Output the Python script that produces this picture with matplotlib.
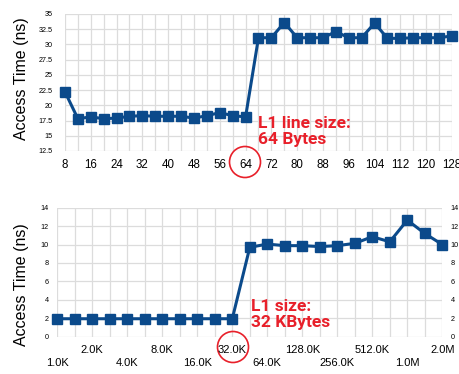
import matplotlib
matplotlib.use("Agg")
import matplotlib.pyplot as plt
import matplotlib.patches as mpatches

plt.rcParams["font.family"] = ["Liberation Sans", "DejaVu Sans"]

# top chart: access time vs. stride (bytes)
stride = list(range(8, 129, 4))
stride_time = [22.2, 17.8, 18.1, 17.8, 17.9, 18.2, 18.3, 18.2, 18.2, 18.2,
               17.9, 18.3, 18.8, 18.3, 18.1, 31.1, 31.1, 33.6, 31.1, 31.1,
               31.1, 32.1, 31.1, 31.1, 33.5, 31.0, 31.0, 31.1, 31.1, 31.1, 31.4]
stride_ticks = list(range(8, 129, 8))

# bottom chart: access time vs. array size
size_labels = ["1.0K", "", "2.0K", "", "4.0K", "", "8.0K", "", "16.0K", "", "32.0K", "",
               "64.0K", "", "128.0K", "", "256.0K", "", "512.0K", "", "1.0M", "", "2.0M"]
size_time = [1.95, 1.95, 1.95, 1.95, 1.95, 1.95, 1.95, 1.95, 1.95, 1.95, 1.95,
             9.7, 10.05, 9.88, 9.88, 9.78, 9.88, 10.13, 10.85, 10.3, 12.65, 11.2, 10.0]

blue = "#0b4a8b"
red = "#e8202a"
grid = "#dcdcdc"
H = 374

fig = plt.figure(figsize=(4.59, 3.74), dpi=100)

# ---- top
ax1 = fig.add_axes([0.1416, 0.5963, 0.8431, 0.3663])
ax1.plot(stride, stride_time, color=blue, lw=2.2, marker="s", ms=6.5, clip_on=False, zorder=3)
ax1.set_xlim(8, 128)
ax1.set_ylim(12.5, 35)
ax1.set_xticks(stride, minor=True)
ax1.set_xticks(stride_ticks)
ax1.set_yticks([12.5 + 2.5 * i for i in range(10)])
ax1.set_yticklabels(["12.5", "15", "17.5", "20", "22.5", "25", "27.5", "30", "32.5", "35"])
ax1.grid(True, which="both", color=grid, lw=0.9)
ax1.tick_params(which="both", length=0)
ax1.tick_params(axis="x", labelsize=8.3, pad=6)
ax1.tick_params(axis="y", labelsize=5.2, pad=9)
for s in ax1.spines.values():
    s.set_visible(False)
ax1.set_axisbelow(True)

ax1.add_patch(mpatches.Ellipse((245, H - 162), 31, 31, transform=None, fill=False,
                               ec=red, lw=1.2, clip_on=False))
fig.text(258 / 459, 1 - 116 / H, "L1 line size:\n64 Bytes", color=red, fontsize=12.5,
         fontweight="bold", family="Roboto", va="top", ha="left", linespacing=1.05)

# ---- bottom
ax2 = fig.add_axes([0.1248, 0.0997, 0.8388, 0.3450])
idx = list(range(len(size_time)))
ax2.plot(idx, size_time, color=blue, lw=2.2, marker="s", ms=6.5, clip_on=False, zorder=3)
ax2.set_xlim(0, len(idx) - 1)
ax2.set_ylim(0, 14)
ax2.set_xticks(idx)
ax2.set_xticklabels([""] * len(idx))
ax2.set_yticks(range(0, 15, 2))
ax2.grid(True, color=grid, lw=0.9)
ax2.tick_params(which="both", length=0)
ax2.tick_params(axis="y", labelsize=5.2, pad=6, labelright=True)
for s in ax2.spines.values():
    s.set_visible(False)
ax2.set_axisbelow(True)
for i, lab in enumerate(size_labels):
    if lab:
        row = (i // 2) % 2
        yoff = -13 if row == 1 else -26
        ax2.annotate(lab, (i, 0), xycoords=("data", "axes fraction"),
                     xytext=(0, yoff * 0.72), textcoords="offset points",
                     ha="center", va="center", fontsize=8)

ax2.add_patch(mpatches.Ellipse((233, H - 347), 31, 31, transform=None, fill=False,
                               ec=red, lw=1.2, clip_on=False))
fig.text(251 / 459, 1 - 299 / H, "L1 size:\n32 KBytes", color=red, fontsize=12.5,
         fontweight="bold", family="Roboto", va="top", ha="left", linespacing=1.05)

fig.text(22 / 459, 1 - 79 / H, "Access Time (ns)", rotation=90, fontsize=11.5,
         ha="center", va="center")
fig.text(22 / 459, 1 - 285 / H, "Access Time (ns)", rotation=90, fontsize=11.5,
         ha="center", va="center")

fig.savefig("out.png", dpi=100)
